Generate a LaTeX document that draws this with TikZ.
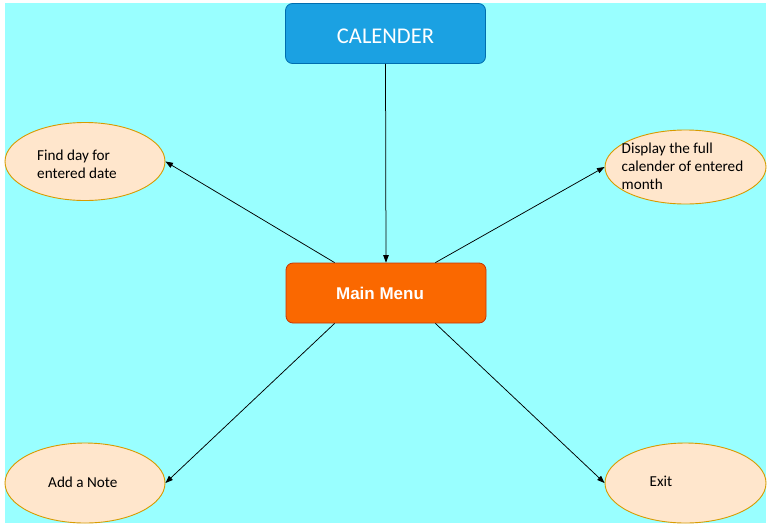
\documentclass[tikz,border=0pt]{standalone}
\usepackage{fontspec}
\setmainfont{Carlito}
\newfontfamily\arialfont{Liberation Sans}
\usetikzlibrary{shapes.geometric,arrows.meta,calc}
\definecolor{bgcyan}{HTML}{99FFFF}
\definecolor{calfill}{HTML}{1BA1E2}
\definecolor{caldraw}{HTML}{006EAF}
\definecolor{menufill}{HTML}{FA6800}
\definecolor{menudraw}{HTML}{C73500}
\definecolor{elfill}{HTML}{FFE6CC}
\definecolor{eldraw}{HTML}{D79B00}
\tikzset{
  boxnode/.style={rectangle, rounded corners=7pt, line width=0.8pt, minimum width=200pt, minimum height=60pt, inner sep=0pt},
  boxtext/.style={inner sep=0pt, text=white},
  ovalnode/.style={ellipse, fill=elfill, draw=eldraw, line width=0.9pt, minimum width=160pt, minimum height=78pt, inner sep=0pt},
  ovaltext/.style={font=\fontsize{15.2}{18}\selectfont, align=left, inner sep=0pt, text=black},
  conn/.style={draw=black, line width=0.75pt, -{Triangle[length=7.5pt,width=5.5pt]}}
}
\begin{document}
\begin{tikzpicture}[x=1pt,y=-1pt]
\useasboundingbox (0,0) rectangle (770,528);
\fill[white] (0,0) rectangle (770,528);
\fill[bgcyan] (5,3) rectangle (766,523);

\node[boxnode, fill=calfill, draw=caldraw] (cal) at (385.5,33.5) {};
\node[boxnode, fill=menufill, draw=menudraw] (menu) at (386,293) {};
\node[boxtext, font=\fontsize{22.5}{26}\selectfont] (calt) at ([yshift=-2.5pt]cal.center) {CALENDER};
\node[boxtext, font=\arialfont\bfseries\fontsize{17}{20}\selectfont] (menut) at ([xshift=-6pt]menu.center) {Main Menu};

\node[ovalnode] (find) at (85,161.5) {};
\node[ovalnode, minimum width=161pt, minimum height=74pt] (disp) at (685.5,167) {};
\node[ovalnode, minimum height=80pt] (note) at (85,483) {};
\node[ovalnode, minimum width=161pt, minimum height=80pt] (exit) at (685.5,483) {};

\node[ovaltext, anchor=west] (findt) at ([xshift=-48pt,yshift=-3pt]find.center) {Find day for\\entered date};
\node[ovaltext, anchor=west] (dispt) at ([xshift=-64pt,yshift=1pt]disp.center) {Display the full\\calender of entered\\month};
\node[ovaltext, anchor=west] (notet) at ([xshift=-37pt,yshift=1pt]note.center) {Add a Note};
\node[ovaltext, anchor=west] (exitt) at ([xshift=-36pt,yshift=2pt]exit.center) {Exit};

\coordinate (mnw) at ([xshift=49pt]menu.north west);
\coordinate (mne) at ([xshift=-51pt]menu.north east);
\coordinate (msw) at ([xshift=49pt]menu.south west);
\coordinate (mse) at ([xshift=-51pt]menu.south east);

\draw[conn] (cal.south) -- (menu.north);
\draw[conn] (mnw) -- (find.east);
\draw[conn] (mne) -- (disp.west);
\draw[conn] (msw) -- (note.east);
\draw[conn] (mse) -- (exit.west);
\end{tikzpicture}
\end{document}
